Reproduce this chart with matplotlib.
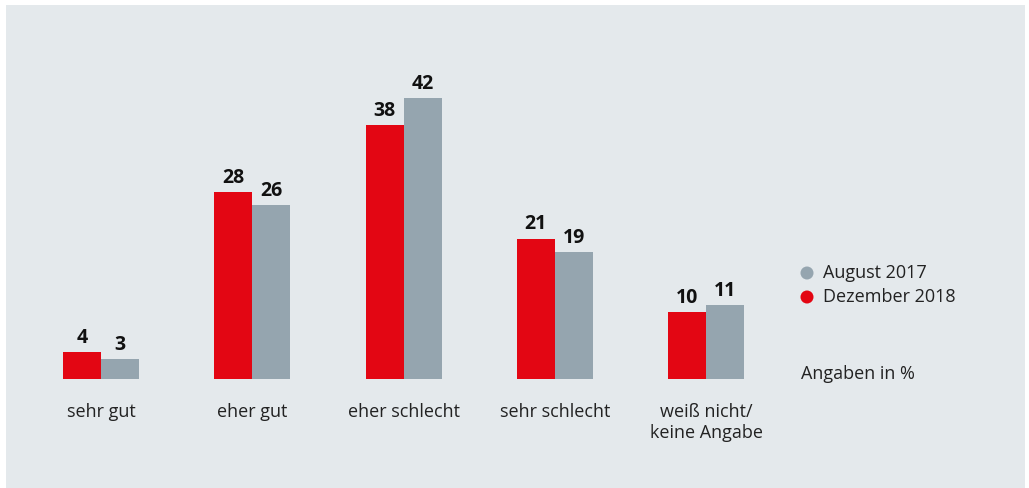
import matplotlib.pyplot as plt
import numpy as np
from matplotlib.patches import Rectangle, Ellipse

categories = ["sehr gut", "eher gut", "eher schlecht", "sehr schlecht", "weiß nicht/\nkeine Angabe"]
dez_2018 = [4, 28, 38, 21, 10]
aug_2017 = [3, 26, 42, 19, 11]
series_labels = ["August 2017", "Dezember 2018"]

RED = "#e30613"
GREY = "#95a5af"
BG = "#e4e9ec"
W, H = 1029, 488

plt.rcParams["font.family"] = ["Open Sans", "DejaVu Sans"]

fig = plt.figure(figsize=(W / 100, H / 100), dpi=100)
fig.patches.append(Rectangle((6 / W, 0), 1019 / W, 483 / H, transform=fig.transFigure,
                             facecolor=BG, edgecolor="none", zorder=-5))

# axes spans full width, baseline at y=379 px from top, 6.69 px per unit
base = (H - 379) / H
ax = fig.add_axes([0, base, 1, 50 * 6.69 / H])
ax.set_facecolor("none")
step = 151.25
x0 = 101
ax.set_xlim(-x0 / step, (W - x0) / step)
ax.set_ylim(0, 50)
ax.axis("off")

x = np.arange(len(categories))
bw = 38 / step
ax.bar(x - bw / 2, dez_2018, bw, color=RED, zorder=2)
ax.bar(x + bw / 2, aug_2017, bw, color=GREY, zorder=2)

for xi, v in zip(x - bw / 2, dez_2018):
    ax.annotate(str(v), (xi, v), xytext=(0, 3), textcoords="offset points",
                ha="center", va="bottom", fontsize=14, fontweight="bold", color="#111111")
for xi, v in zip(x + bw / 2, aug_2017):
    ax.annotate(str(v), (xi, v), xytext=(0, 3), textcoords="offset points",
                ha="center", va="bottom", fontsize=14, fontweight="bold", color="#111111")

for xi, c in zip(x, categories):
    ax.annotate(c, (xi, 0), xytext=(0, -17), textcoords="offset points",
                ha="center", va="top", fontsize=13, color="#222222", linespacing=1.25)

# legend
for i, (lab, col) in enumerate(zip(series_labels, [GREY, RED])):
    y = 1 - (273 + 24 * i) / H
    fig.patches.append(Ellipse((807 / W, y), 13 / W, 13 / H, transform=fig.transFigure,
                               facecolor=col, edgecolor="none"))
    fig.text(823 / W, y, lab, ha="left", va="center", fontsize=13, color="#222222")

fig.text(801 / W, 1 - 374 / H, "Angaben in %", ha="left", va="center", fontsize=13, color="#222222")

fig.savefig("out.png", dpi=100, facecolor="white")
